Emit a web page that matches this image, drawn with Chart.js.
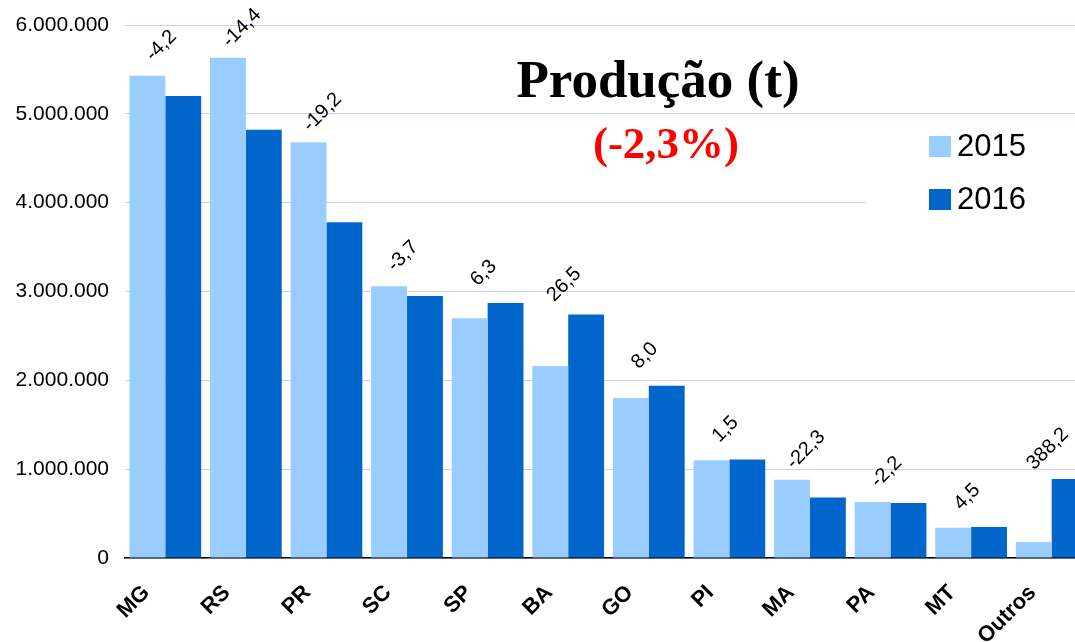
<!DOCTYPE html>
<html>
<head>
<meta charset="utf-8">
<script src="https://cdn.jsdelivr.net/npm/chart.js@4"></script>
<style>
    html, body { margin: 0; padding: 0; background: #fff; overflow: hidden; }
    #wrap { position: relative; width: 1100px; height: 642px; }
</style>
</head>
<body>
<div id="wrap"><canvas id="grafico-producao" width="1100" height="642"></canvas></div>
<script>
// Dados (produção em toneladas)
const estados = ['MG', 'RS', 'PR', 'SC', 'SP', 'BA', 'GO', 'PI', 'MA', 'PA', 'MT', 'Outros'];
const prod2015 = [5430000, 5630000, 4680000, 3060000, 2700000, 2160000, 1800000, 1100000, 880000, 630000, 340000, 180000];
const prod2016 = [5200000, 4820000, 3780000, 2950000, 2870000, 2740000, 1940000, 1110000, 680000, 620000, 350000, 890000];
const variacao = ['-4,2', '-14,4', '-19,2', '-3,7', '6,3', '26,5', '8,0', '1,5', '-22,3', '-2,2', '4,5', '388,2'];
const anos = ['2015', '2016'];
const titulo = 'Produção (t)';
const subtitulo = '(-2,3%)';

const corClara = '#99ccff';
const corEscura = '#0066cc';

// formata com ponto de milhar (6.000.000)
function milhar(v) {
    return String(v).replace(/\B(?=(\d{3})+(?!\d))/g, '.');
}

// rótulos de variação % acima de cada par de barras
const rotulosVariacao = {
    id: 'rotulosVariacao',
    afterDatasetsDraw(chart) {
        const ctx = chart.ctx;
        const x = chart.scales.x;
        const y = chart.scales.y;
        ctx.save();
        ctx.font = '20px "Liberation Sans", Arial, sans-serif';
        ctx.fillStyle = '#000';
        ctx.textAlign = 'center';
        ctx.textBaseline = 'middle';
        variacao.forEach((txt, i) => {
            const cx = x.getPixelForValue(i);
            const topo = y.getPixelForValue(Math.max(prod2015[i], prod2016[i]));
            ctx.save();
            ctx.translate(cx - 4, topo - 30);
            ctx.rotate(-Math.PI / 4);
            ctx.fillText(txt, 0, 0);
            ctx.restore();
        });
        ctx.restore();
    }
};

// título, subtítulo e legenda desenhados dentro da área do gráfico
const tituloLegenda = {
    id: 'tituloLegenda',
    afterDraw(chart) {
        const ctx = chart.ctx;
        ctx.save();
        ctx.textAlign = 'center';
        ctx.textBaseline = 'alphabetic';
        ctx.fillStyle = '#000';
        ctx.font = 'bold 53px "Liberation Serif", "Times New Roman", serif';
        ctx.fillText(titulo, 658, 97);
        ctx.fillStyle = '#ff0000';
        ctx.font = 'bold 45px "Liberation Serif", "Times New Roman", serif';
        ctx.fillText(subtitulo, 666, 158);

        // caixa da legenda (fundo branco esconde a grade)
        ctx.fillStyle = '#fff';
        ctx.fillRect(866, 118, 230, 108);
        const cores = [corClara, corEscura];
        ctx.font = '31px "Liberation Sans", Arial, sans-serif';
        ctx.textAlign = 'left';
        ctx.textBaseline = 'middle';
        anos.forEach((a, i) => {
            const cy = 146 + i * 53;
            ctx.fillStyle = cores[i];
            ctx.fillRect(929, cy - 10, 22, 21);
            ctx.fillStyle = '#000';
            ctx.fillText(a, 957, cy + 1);
        });
        ctx.restore();
    }
};

Chart.defaults.color = '#000';
Chart.defaults.font.family = '"Liberation Sans", Arial, sans-serif';

const ctxProd = document.getElementById('grafico-producao').getContext('2d');
new Chart(ctxProd, {
    type: 'bar',
    data: {
        labels: estados,
        datasets: [
            { label: anos[0], data: prod2015, backgroundColor: corClara, borderWidth: 0 },
            { label: anos[1], data: prod2016, backgroundColor: corEscura, borderWidth: 0 }
        ]
    },
    options: {
        responsive: false,
        animation: false,
        layout: { padding: { top: 25, right: 8, left: 0, bottom: 0 } },
        plugins: {
            legend: { display: false },
            tooltip: { enabled: false }
        },
        datasets: {
            bar: { categoryPercentage: 0.89, barPercentage: 1.0 }
        },
        scales: {
            x: {
                grid: { display: false, drawTicks: false },
                border: { color: '#000', width: 1.5 },
                ticks: {
                    font: { size: 22, weight: 'bold' },
                    minRotation: 45,
                    maxRotation: 45,
                    padding: 22,
                    labelOffset: -19,
                    autoSkip: false
                },
                afterFit(s) { s.height = 84; s.paddingLeft = 0; s.paddingRight = 0; }
            },
            y: {
                min: 0,
                max: 6000000,
                grid: { color: '#ccccff', lineWidth: 1, drawTicks: false },
                border: { display: false },
                ticks: {
                    stepSize: 1000000,
                    padding: 16,
                    font: { size: 21 },
                    callback: v => milhar(v)
                },
                afterFit(s) { s.width = 125; s.paddingTop = 0; s.paddingBottom = 0; }
            }
        }
    },
    plugins: [rotulosVariacao, tituloLegenda]
});
</script>
</body>
</html>
